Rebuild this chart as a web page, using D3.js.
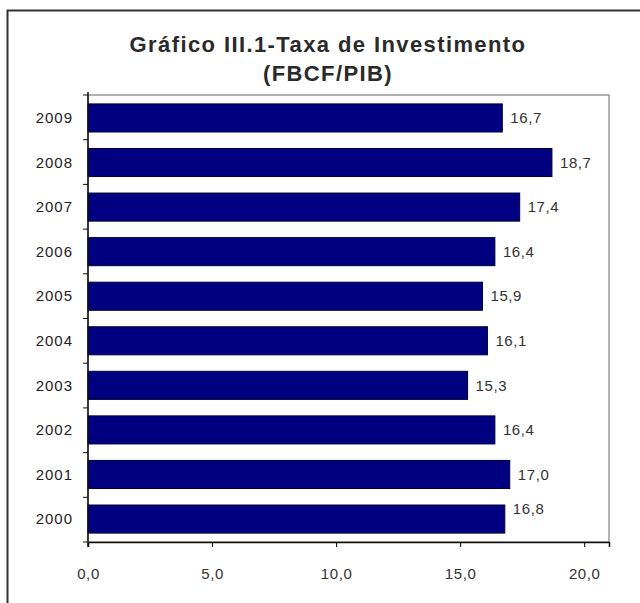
<!DOCTYPE html>
<meta charset="utf-8">
<style>
body { margin: 0; background: #fff; }
text { font-family: "Liberation Sans", Arial, sans-serif; }
</style>
<body>
<script src="https://cdn.jsdelivr.net/npm/d3@7/dist/d3.min.js"></script>
<script>

// dados
var anos = ["2009", "2008", "2007", "2006", "2005", "2004", "2003", "2002", "2001", "2000"];
var taxa = [16.7, 18.7, 17.4, 16.4, 15.9, 16.1, 15.3, 16.4, 17.0, 16.8];
var xTicks = [0, 5, 10, 15, 20];
var titulo = ["Gráfico III.1-Taxa de Investimento", "(FBCF/PIB)"];

var data = anos.map(function(a, i) { return {ano: a, valor: taxa[i]}; });

var W = 640, H = 603;
var margin = {top: 95, right: 31, bottom: 61, left: 88},
    width = W - margin.left - margin.right,
    height = H - margin.top - margin.bottom;

var svg = d3.select("body").append("svg")
    .attr("width", W)
    .attr("height", H);

// moldura externa (so topo e esquerda visiveis)
svg.append("path")
    .attr("d", "M7.5," + H + "V10.5H" + W)
    .attr("fill", "none")
    .attr("stroke", "#333")
    .attr("stroke-width", 2);

// titulo
svg.append("text")
    .attr("x", 328).attr("y", 52)
    .attr("text-anchor", "middle")
    .attr("font-size", 22)
    .attr("font-weight", "bold")
    .attr("letter-spacing", 1.4)
    .attr("fill", "#2a2a2a")
    .selectAll("tspan")
    .data(titulo)
    .enter().append("tspan")
    .attr("x", 328)
    .attr("dy", function(d, i) { return i ? 29 : 0; })
    .text(function(d) { return d; });

var g = svg.append("g")
    .attr("transform", "translate(" + margin.left + "," + margin.top + ")");

var x = d3.scaleLinear().domain([0, 21]).range([0, width]);
var y = d3.scaleBand().domain(anos).range([0, height]).paddingInner(0.37).paddingOuter(0.2);

// borda da area do grafico
g.append("rect")
    .attr("x", 0).attr("y", 0)
    .attr("width", width).attr("height", height)
    .attr("fill", "none")
    .attr("stroke", "#999")
    .attr("stroke-width", 1.5);

// barras
g.selectAll(".bar")
    .data(data)
    .enter().append("rect")
    .attr("class", "bar")
    .attr("x", 0)
    .attr("y", function(d) { return y(d.ano); })
    .attr("width", function(d) { return x(d.valor); })
    .attr("height", y.bandwidth())
    .attr("fill", "#000080")
    .attr("stroke", "#000033")
    .attr("stroke-width", 1);

// rotulos
var fmt = function(v) { return d3.format(".1f")(v).replace(".", ","); };
g.selectAll(".lbl")
    .data(data)
    .enter().append("text")
    .attr("class", "lbl")
    .attr("x", function(d) { return x(d.valor) + 8; })
    .attr("y", function(d) { return y(d.ano) + y.bandwidth() / 2 - (d.ano === "2000" ? 10 : 0); })
    .attr("dy", "0.35em")
    .attr("font-size", 15)
    .attr("letter-spacing", 0.6)
    .attr("fill", "#333")
    .text(function(d) { return fmt(d.valor); });

// eixo x
var xAxis = d3.axisBottom(x)
    .tickValues(xTicks)
    .tickSize(5)
    .tickFormat(fmt);
var gx = g.append("g")
    .attr("transform", "translate(0," + height + ")")
    .call(xAxis);
gx.select(".domain").attr("stroke", "#111").attr("stroke-width", 1.5);
gx.selectAll("text").attr("font-size", 15).attr("letter-spacing", 0.6).attr("fill", "#333").attr("dy", "1.9em");

// eixo y (marcas entre as categorias)
var gy = g.append("g");
gy.append("line")
    .attr("x1", 0).attr("x2", 0)
    .attr("y1", -3).attr("y2", height + 5)
    .attr("stroke", "#111").attr("stroke-width", 1.5);
var bordas = d3.range(anos.length + 1).map(function(i) { return i * height / anos.length; });
gy.selectAll(".tk")
    .data(bordas)
    .enter().append("line")
    .attr("x1", -5).attr("x2", 0)
    .attr("y1", function(d) { return d; })
    .attr("y2", function(d) { return d; })
    .attr("stroke", "#111");
gy.selectAll(".ylab")
    .data(anos)
    .enter().append("text")
    .attr("x", -15)
    .attr("y", function(d) { return y(d) + y.bandwidth() / 2; })
    .attr("dy", "0.35em")
    .attr("text-anchor", "end")
    .attr("font-size", 15)
    .attr("letter-spacing", 1)
    .attr("fill", "#222")
    .text(function(d) { return d; });

</script>
</body>
